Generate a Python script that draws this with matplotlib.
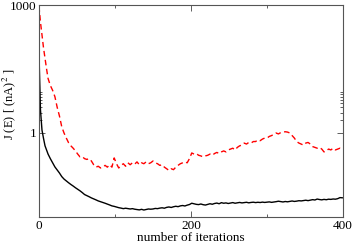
import matplotlib
matplotlib.use("Agg")
import matplotlib.pyplot as plt
from matplotlib.ticker import FixedLocator, FixedFormatter, NullFormatter

plt.rcParams['font.family'] = ['Liberation Serif', 'DejaVu Serif']
plt.rcParams['mathtext.fontset'] = 'stix'

# iteration grid (dense at the start, every 3 iterations afterwards)
iterations = [0, 2, 4, 6, 8, 10, 12] + list(range(15, 400, 3))

# red dashed curve
j_red = [950, 400, 200, 100, 56, 32, 19,
         13, 10, 7.1, 4.0, 2.5, 1.4, 1.0, 0.76, 0.59, 0.50,
         0.44, 0.38, 0.32, 0.275, 0.28, 0.25, 0.24, 0.25, 0.22, 0.18,
         0.158, 0.166, 0.151, 0.158, 0.174, 0.158, 0.18, 0.158, 0.26, 0.19,
         0.151, 0.174, 0.19, 0.166, 0.2, 0.18, 0.2, 0.186, 0.21, 0.18,
         0.2, 0.19, 0.21, 0.19, 0.2, 0.22, 0.2, 0.19, 0.174, 0.18,
         0.158, 0.145, 0.132, 0.145, 0.138, 0.158, 0.174, 0.19, 0.2, 0.21,
         0.2, 0.25, 0.34, 0.32, 0.33, 0.30, 0.29, 0.275, 0.29, 0.30,
         0.32, 0.30, 0.33, 0.35, 0.33, 0.36, 0.38, 0.36, 0.4, 0.42,
         0.44, 0.4, 0.46, 0.5, 0.52, 0.58, 0.55, 0.6, 0.58, 0.63,
         0.63, 0.69, 0.66, 0.72, 0.76, 0.76, 0.83, 0.87, 0.93, 1.0,
         0.95, 1.02, 1.05, 1.07, 1.05, 1.0, 0.87, 0.76, 0.63, 0.58,
         0.55, 0.52, 0.58, 0.6, 0.55, 0.48, 0.46, 0.44, 0.46, 0.42,
         0.36, 0.38, 0.42, 0.4, 0.44, 0.4, 0.42, 0.44, 0.42]

# black solid curve
j_black = [80, 3.5, 1.17, 0.75, 0.5, 0.4, 0.32,
           0.25, 0.2, 0.16, 0.135, 0.115, 0.095, 0.083, 0.075, 0.068, 0.062,
           0.057, 0.052, 0.048, 0.044, 0.040, 0.036, 0.034, 0.032, 0.030, 0.0285,
           0.027, 0.0255, 0.0245, 0.0235, 0.0225, 0.0215, 0.0205, 0.0195, 0.019, 0.0183,
           0.0177, 0.0173, 0.0168, 0.0172, 0.0168, 0.0165, 0.0168, 0.0163, 0.016, 0.0157,
           0.0162, 0.0156, 0.016, 0.0165, 0.0163, 0.0165, 0.017, 0.0168, 0.0173, 0.0176,
           0.0172, 0.018, 0.0184, 0.0179, 0.0186, 0.0191, 0.0187, 0.0195, 0.0199, 0.0194,
           0.0203, 0.021, 0.0225, 0.0218, 0.0212, 0.0209, 0.0216, 0.0208, 0.0204, 0.0212,
           0.0219, 0.0213, 0.0222, 0.0227, 0.0219, 0.0232, 0.0225, 0.0229, 0.0222, 0.0227,
           0.0233, 0.0225, 0.023, 0.0235, 0.0229, 0.0233, 0.0237, 0.023, 0.0235, 0.0238,
           0.0233, 0.0237, 0.0234, 0.0239, 0.0235, 0.0238, 0.0242, 0.0236, 0.024, 0.0245,
           0.0251, 0.0246, 0.0241, 0.0247, 0.0243, 0.0249, 0.0254, 0.0248, 0.0252, 0.0258,
           0.0255, 0.026, 0.0265, 0.0259, 0.0266, 0.0273, 0.0268, 0.0282, 0.0275, 0.027,
           0.0277, 0.0272, 0.028, 0.0277, 0.0283, 0.028, 0.0288, 0.0305, 0.0302]

fig = plt.figure(figsize=(3.54, 2.43), dpi=100)
ax = fig.add_axes([0.110, 0.107, 0.859, 0.872])

ax.plot(iterations, j_red, color='#ff0000', lw=1.0, ls=(0, (4, 2.5)))
ax.plot(iterations, j_black, color='black', lw=1.0)

ax.set_yscale('log')
ax.set_xlim(0, 400)
ax.set_ylim(0.0107, 1000)

ax.xaxis.set_major_locator(FixedLocator([0, 200, 400]))
ax.xaxis.set_minor_locator(FixedLocator([100, 300]))
ax.yaxis.set_major_locator(FixedLocator([1, 1000]))
ax.yaxis.set_minor_locator(FixedLocator([2, 3, 4, 5, 6, 7, 8, 9]))
ax.yaxis.set_major_formatter(FixedFormatter(['1', '1000']))
ax.yaxis.set_minor_formatter(NullFormatter())

ax.tick_params(which='both', direction='in', top=True, right=True,
               labelsize=9.5, width=0.6, color='#444444', pad=2)
ax.tick_params(which='major', length=4)
ax.tick_params(which='minor', length=2.5)
for sp in ax.spines.values():
    sp.set_linewidth(0.8)
    sp.set_color('#555555')

ax.set_xlabel('number of iterations', fontsize=9.5, labelpad=0)
ax.set_ylabel('J (E) [ (nA)$^2$ ]', fontsize=9)
ax.yaxis.set_label_coords(-0.068, 0.53)

fig.savefig('out.png', dpi=100)
